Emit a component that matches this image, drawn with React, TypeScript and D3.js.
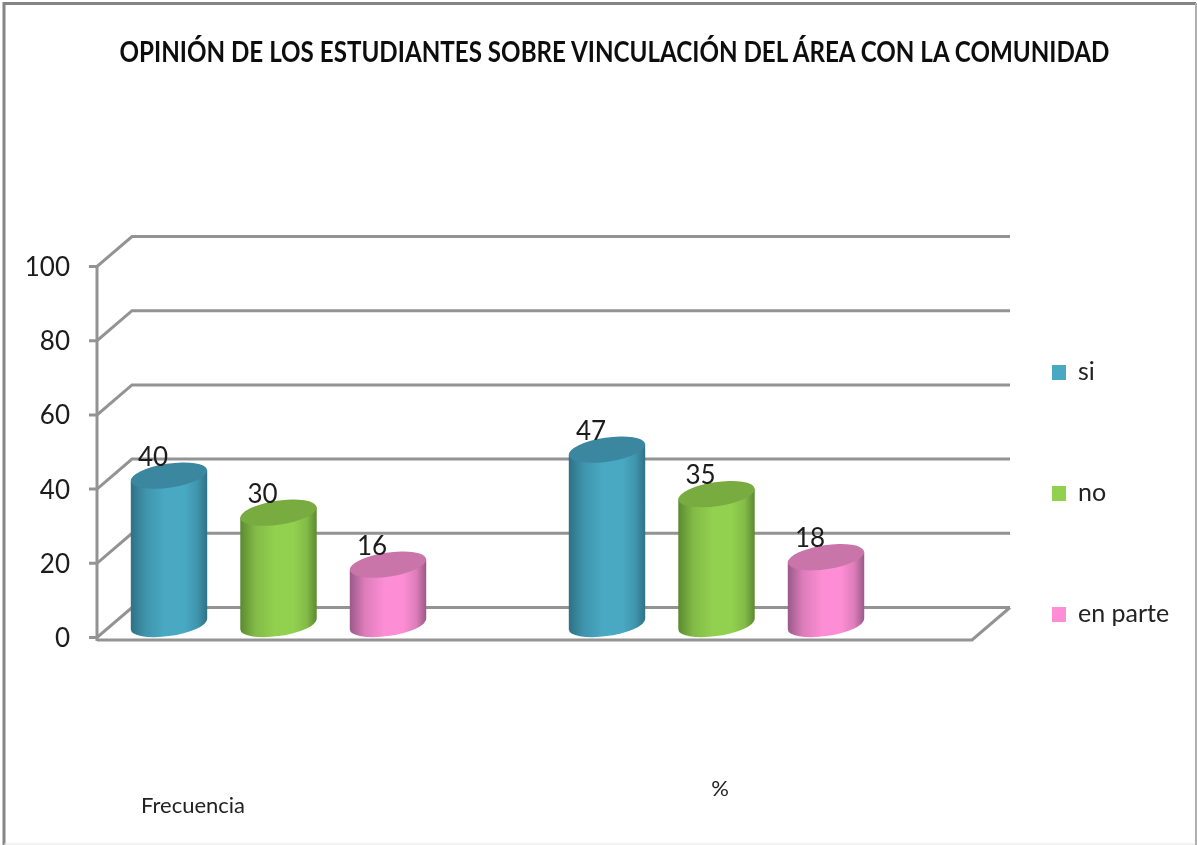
import React from "react";
import * as d3 from "d3";

const titleText = "OPINIÓN DE LOS ESTUDIANTES SOBRE VINCULACIÓN DEL ÁREA CON LA COMUNIDAD";
const groups = ["Frecuencia", "%"];
const seriesNames = ["si", "no", "en parte"];
const siValues = [40, 47];
const noValues = [30, 35];
const enParteValues = [16, 18];
const ticks = [0, 20, 40, 60, 80, 100];
const bodyColors = ["#49a9c3", "#92d050", "#fd8dd4"];
const shoulderColors = ["#3f95ad", "#82bb47", "#dd7dba"];
const edgeColors = ["#2f7186", "#5c8a30", "#99598a"];
const topColors = ["#3a87a0", "#78ab40", "#c974a9"];

const W = 1197, H = 845;
const FONT = "Lato, 'Open Sans', sans-serif";
const GRID = "#939393";

const yFront = d3.scaleLinear().domain([0, 100]).range([637.5, 266.5]);
const yBack = d3.scaleLinear().domain([0, 100]).range([607.5, 236.5]);
const yBar = d3.scaleLinear().domain([0, 100]).range([624, 253]);
const xGroup = d3.scaleBand<string>().domain(groups).range([59.5, 935.5]);
const xSeries = d3.scaleBand<string>().domain(seriesNames).range([-164.25, 164.25]);

const RX = 38.6, RY = 12, ROT = -8.5;

function tangent(cx: number, cy: number) {
  const th = (ROT * Math.PI) / 180;
  const t = Math.atan2(-RY * Math.sin(th), RX * Math.cos(th));
  const dx = RX * Math.cos(t) * Math.cos(th) - RY * Math.sin(t) * Math.sin(th);
  const dy = RX * Math.cos(t) * Math.sin(th) + RY * Math.sin(t) * Math.cos(th);
  return { lx: cx - Math.abs(dx), ly: cy + (dx > 0 ? -dy : dy), rx: cx + Math.abs(dx), ry: cy + (dx > 0 ? dy : -dy) };
}

function Cylinder({ cx, value, idx }: { cx: number; value: number; idx: number }) {
  const top = yBar(value), base = yBar(0);
  const a = tangent(cx, top), b = tangent(cx, base);
  const body = `M${a.lx},${a.ly} L${b.lx},${b.ly} A${RX},${RY} ${ROT} 0 0 ${b.rx},${b.ry} L${a.rx},${a.ry} Z`;
  return (
    <g>
      <path d={body} fill={`url(#body${idx})`} />
      <ellipse cx={cx} cy={top} rx={RX} ry={RY} fill={topColors[idx]} transform={`rotate(${ROT} ${cx} ${top})`} />
      <text x={cx - 16} y={top - 10} textAnchor="middle" fontSize={26} fill="#1a1a1a" fontFamily={FONT}>{value}</text>
    </g>
  );
}

export default function App() {
  const seriesValues = [siValues, noValues, enParteValues];
  const legendY = [373, 494, 615];
  return (
    <svg width={W} height={H} style={{ position: "fixed", left: 0, top: 0, background: "#fff" }}>
      <defs>
        {bodyColors.map((c, i) => (
          <linearGradient key={c} id={`body${i}`} x1="0" x2="1" y1="0" y2="0">
            <stop offset="0" stopColor={edgeColors[i]} />
            <stop offset="0.2" stopColor={shoulderColors[i]} />
            <stop offset="0.45" stopColor={c} />
            <stop offset="0.7" stopColor={c} />
            <stop offset="0.87" stopColor={shoulderColors[i]} />
            <stop offset="1" stopColor={edgeColors[i]} />
          </linearGradient>
        ))}
        <filter id="soft" x="-2%" y="-2%" width="104%" height="104%">
          <feGaussianBlur stdDeviation="0.6" />
        </filter>
      </defs>
      <g filter="url(#soft)">
        <path d={`M4,${H + 5} V3.5 H1196`} fill="none" stroke="#858585" strokeWidth={3} />
        <line x1={1196} x2={1196} y1={3} y2={H} stroke="#b0b0b0" strokeWidth={2} />
        <line x1={4} x2={1195} y1={844} y2={844} stroke="#e6e6e6" strokeWidth={1} />

        <text transform="translate(614.5,62) scale(1,1.08)" textAnchor="middle" fontSize={26} fontWeight={700} fill="#111" fontFamily={FONT}
          textLength={990} lengthAdjust="spacingAndGlyphs">{titleText}</text>

        <g stroke={GRID} strokeWidth={3} fill="none">
          {ticks.map((t) => (
            <path key={t} d={`M89,${yFront(t)} H97 L132,${yBack(t)} H1010`} />
          ))}
          <line x1={97} x2={97} y1={yFront(100)} y2={641} />
          <path d={`M97,640 H972 L1010,${yBack(0)}`} />
        </g>

        {ticks.map((t) => (
          <text key={t} x={70} y={yFront(t) + 9.5} textAnchor="end" fontSize={26} fill="#1a1a1a" fontFamily={FONT}>{t}</text>
        ))}

        {groups.map((g, gi) =>
          seriesNames.map((s, si) => (
            <Cylinder key={g + s} cx={(xGroup(g) as number) + xGroup.bandwidth() / 2 + (xSeries(s) as number) + xSeries.bandwidth() / 2}
              value={seriesValues[si][gi]} idx={si} />
          ))
        )}

        {seriesNames.map((s, i) => (
          <g key={s}>
            <rect x={1052} y={legendY[i] - 8} width={14} height={15} fill={bodyColors[i]} />
            <text x={1078} y={legendY[i] + 7} fontSize={25} fill="#222" fontFamily={FONT}>{s}</text>
          </g>
        ))}

        <text x={141} y={813} fontSize={22} fill="#222" fontFamily={FONT}>{groups[0]}</text>
        <text x={720} y={796} textAnchor="middle" fontSize={22} fill="#222" fontFamily={FONT}>{groups[1]}</text>
      </g>
    </svg>
  );
}
